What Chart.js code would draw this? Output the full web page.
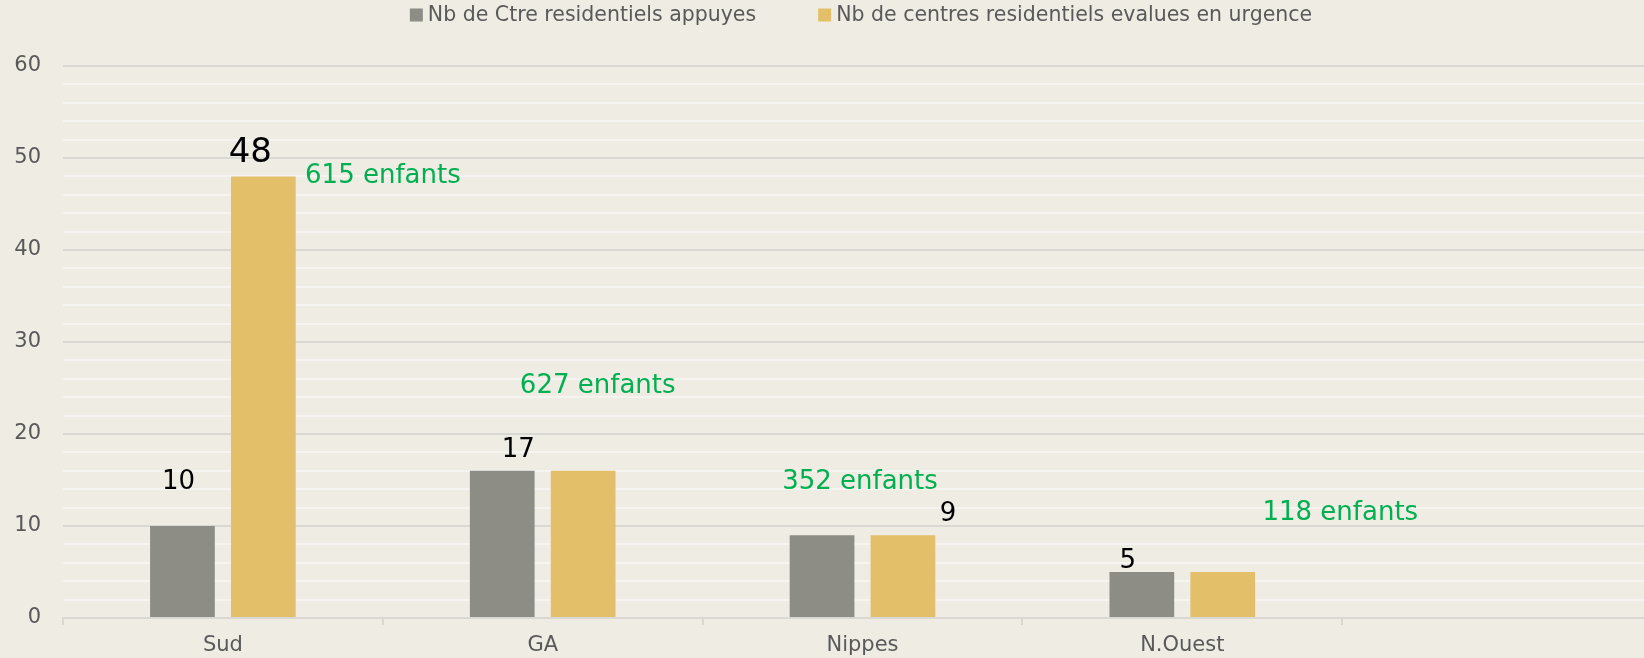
<!DOCTYPE html>
<html><head><meta charset="utf-8">
<script src="https://cdn.jsdelivr.net/npm/chart.js@4"></script>
<style>
html,body{margin:0;padding:0;overflow:hidden;background:#EFECE4;width:1644px;height:658px}
#wrap{position:absolute;left:0;top:0;width:1664px;height:658px}
canvas{display:block}
</style></head><body>
<div id="wrap"><canvas id="c" width="1664" height="658"></canvas></div>
<script>
const categories = ['Sud', 'GA', 'Nippes', 'N.Ouest', ''];
const seriesNames = ['Nb de Ctre residentiels appuyes', 'Nb de centres residentiels evalues en urgence'];
const appuyes = [10, 16, 9, 5, null];
const urgence = [48, 16, 9, 5, null];
const appuyesLabels = ['10', '17', '', '5', ''];
const urgenceLabels = ['48', '', '9', '', ''];
const enfantsLabels = ['615 enfants', '627 enfants', '352 enfants', '118 enfants', ''];
const yTicks = [0, 10, 20, 30, 40, 50, 60];

const FONT = "'DejaVu Sans', sans-serif";
const GRAY = '#8D8D86', GOLD = '#E4BF69';
const MAJOR = '#D9D8D3', MINOR = '#F5F4F0', TXT = '#595959';

const labelPlugin = {
  id: 'customLabels',
  afterDatasetsDraw(chart, args, o) {
    const ctx = chart.ctx;
    ctx.save();
    ctx.textAlign = 'center';
    ctx.textBaseline = 'middle';
    const sets = [appuyesLabels, urgenceLabels];
    sets.forEach((arr, ds) => {
      const meta = chart.getDatasetMeta(ds);
      arr.forEach((t, i) => {
        if (!t) return;
        const p = o.value[ds + '_' + i] || {dx: 0, dy: -20, size: 26};
        const bar = meta.data[i];
        ctx.font = p.size + 'px ' + FONT;
        ctx.fillStyle = '#000000';
        ctx.fillText(t, bar.x + p.dx, bar.y + p.dy);
      });
    });
    const xs = chart.scales.x, ys = chart.scales.y;
    ctx.font = o.noteSize + 'px ' + FONT;
    ctx.fillStyle = '#00B050';
    enfantsLabels.forEach((t, i) => {
      if (!t) return;
      const p = o.notes[i];
      ctx.fillText(t, xs.getPixelForValue(i) + p.dx, ys.getPixelForValue(p.y));
    });
    ctx.restore();
  }
};

const legendPlugin = {
  id: 'topLegend',
  afterDraw(chart, args, o) {
    const ctx = chart.ctx;
    ctx.save();
    ctx.font = o.size + 'px ' + FONT;
    ctx.textBaseline = 'middle';
    ctx.textAlign = 'left';
    const items = chart.data.datasets.map(d => ({text: d.label, color: d.backgroundColor, w: ctx.measureText(d.label).width}));
    const total = items.reduce((s, it) => s + o.box + o.boxGap + it.w, 0) + o.itemGap * (items.length - 1);
    let x = o.centerX - total / 2;
    items.forEach(it => {
      ctx.fillStyle = it.color;
      ctx.fillRect(x, o.y - o.box / 2, o.box, o.box);
      x += o.box + o.boxGap;
      ctx.fillStyle = o.color;
      ctx.fillText(it.text, x, o.y + 1);
      x += it.w + o.itemGap;
    });
    ctx.restore();
  }
};

new Chart(document.getElementById('c'), {
  type: 'bar',
  data: {
    labels: categories,
    datasets: [
      {label: seriesNames[0], data: appuyes, backgroundColor: GRAY, categoryPercentage: 0.506, barPercentage: 0.80},
      {label: seriesNames[1], data: urgence, backgroundColor: GOLD, categoryPercentage: 0.506, barPercentage: 0.80}
    ]
  },
  plugins: [labelPlugin, legendPlugin],
  options: {
    responsive: false,
    animation: false,
    layout: {padding: {top: 66, left: 14, right: 2, bottom: 0}},
    plugins: {
      legend: {display: false},
      tooltip: {enabled: false},
      topLegend: {size: 20.5, box: 13, boxGap: 5, itemGap: 62, centerX: 861, y: 15, color: TXT},
      customLabels: {
        noteSize: 26,
        value: {
          '0_0': {dx: -4, dy: -44, size: 26},
          '1_0': {dx: -13, dy: -23, size: 34},
          '0_1': {dx: 16, dy: -21, size: 26},
          '1_2': {dx: 45, dy: -21, size: 26},
          '0_3': {dx: -14, dy: -11, size: 26}
        },
        notes: [
          {dx: 160, y: 48},
          {dx: 55, y: 25.2},
          {dx: -2.5, y: 14.75},
          {dx: 158, y: 11.4}
        ]
      }
    },
    scales: {
      x: {
        offset: true,
        afterFit: s => { s.height = 40; },
        grid: {display: true, offset: true, drawOnChartArea: false, drawTicks: true, tickLength: 7, color: MAJOR, lineWidth: 2},
        border: {display: true, color: MAJOR, width: 2},
        ticks: {color: TXT, font: {family: FONT, size: 21}, padding: 8, maxRotation: 0, autoSkip: false}
      },
      y: {
        min: 0, max: 60,
        afterFit: s => { s.width = 49; },
        grid: {
          drawTicks: false,
          color: c => (c.tick && c.tick.value % 10 === 0) ? MAJOR : MINOR,
          lineWidth: 2
        },
        border: {display: false},
        ticks: {
          stepSize: 2, autoSkip: false, padding: 22, color: TXT,
          font: {family: FONT, size: 21},
          callback: v => yTicks.includes(v) ? String(v) : ''
        }
      }
    }
  }
});
</script>
</body></html>
